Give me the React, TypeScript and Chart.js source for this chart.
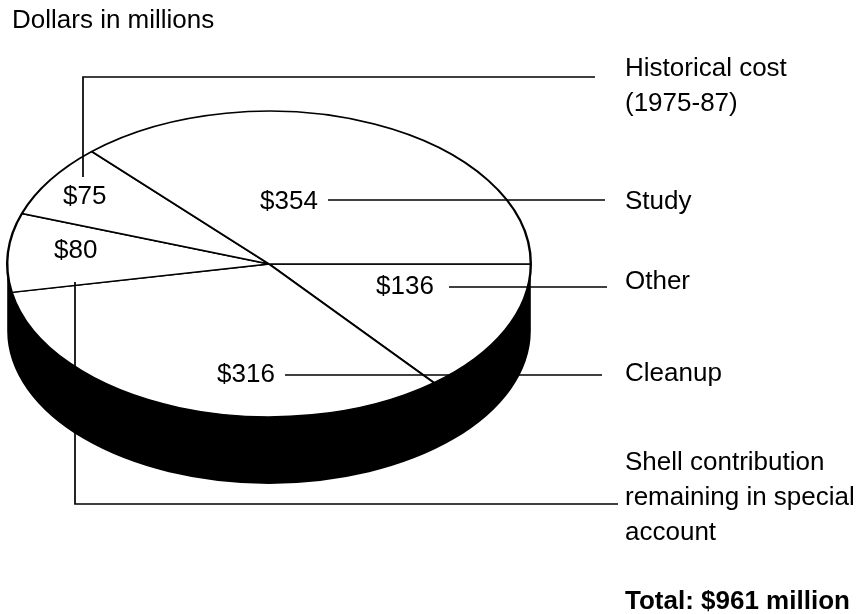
import React, { useEffect, useRef } from "react";
import { Chart, registerables } from "chart.js";

Chart.register(...registerables);

const categories = ["Other", "Cleanup", "Shell contribution remaining in special account", "Historical cost (1975-87)", "Study"];
const values = [136, 316, 80, 75, 354];
const unitNote = "Dollars in millions";
const totalNote = "Total: $961 million";
const categoryLines = [["Other"], ["Cleanup"], ["Shell contribution", "remaining in special", "account"], ["Historical cost", "(1975-87)"], ["Study"]];

const W = 868;
const H = 614;
const FONT = "26px 'Liberation Sans', Arial, sans-serif";
const BOLD = "bold 26px 'Liberation Sans', Arial, sans-serif";
const SQUASH = 153 / 262;
const DEPTH = 67;

// layout of annotations, in the same order as the categories
const valueLabelAt = [[376, 294], [217, 382], [54, 258], [63, 204], [260, 209]];
const nameAt = [[625, 289], [625, 381], [625, 470], [625, 76], [625, 209]];
const leaders = [
  [[449, 287], [607, 287]],
  [[285, 375], [602, 375]],
  [[75, 282], [75, 504], [618, 504]],
  [[83, 177], [83, 77], [595, 77]],
  [[328, 200], [605, 200]],
];

const squashPlugin = {
  id: "squash",
  beforeDatasetsDraw(chart: any) {
    const { ctx } = chart;
    const arc = chart.getDatasetMeta(0).data[0];
    const { x, y, outerRadius: r } = arc;
    ctx.save();
    // black side wall of the disc
    ctx.fillStyle = "#000";
    ctx.beginPath();
    ctx.ellipse(x, y + DEPTH, r, r * SQUASH, 0, 0, Math.PI);
    ctx.lineTo(x - r, y);
    ctx.lineTo(x + r, y);
    ctx.closePath();
    ctx.fill();
    ctx.restore();
    ctx.save();
    ctx.translate(0, y);
    ctx.scale(1, SQUASH);
    ctx.translate(0, -y);
  },
  afterDatasetsDraw(chart: any) {
    const { ctx } = chart;
    ctx.restore();
    ctx.save();
    ctx.strokeStyle = "#000";
    ctx.lineWidth = 1.7;
    ctx.lineCap = "butt";
    ctx.lineJoin = "miter";
    leaders.forEach((pts) => {
      ctx.beginPath();
      pts.forEach(([px, py], i) => (i ? ctx.lineTo(px, py) : ctx.moveTo(px, py)));
      ctx.stroke();
    });
    ctx.fillStyle = "#000";
    ctx.textAlign = "left";
    ctx.textBaseline = "alphabetic";
    ctx.font = FONT;
    ctx.fillText(unitNote, 12, 28);
    values.forEach((v, i) => ctx.fillText(`$${v}`, valueLabelAt[i][0], valueLabelAt[i][1]));
    categoryLines.forEach((lines, i) =>
      lines.forEach((t, j) => ctx.fillText(t, nameAt[i][0], nameAt[i][1] + j * 35))
    );
    ctx.font = BOLD;
    ctx.fillText(totalNote, 625, 609);
    ctx.restore();
  },
};

export default function App() {
  const ref = useRef<HTMLCanvasElement>(null);
  useEffect(() => {
    const chart = new Chart(ref.current as HTMLCanvasElement, {
      type: "pie",
      data: {
        labels: categories,
        datasets: [{ data: values, backgroundColor: "#fff", borderColor: "#000", borderWidth: 2.4, borderAlign: "center" }],
      },
      options: {
        responsive: false,
        animation: false,
        rotation: 90,
        layout: { padding: { left: 6, right: 336, top: 1, bottom: 87 } },
        plugins: { legend: { display: false }, tooltip: { enabled: false }, title: { display: false } },
      },
      plugins: [squashPlugin],
    } as any);
    return () => chart.destroy();
  }, []);
  return (
    <div style={{ position: "absolute", left: 0, top: 0, width: W, height: H, background: "#fff" }}>
      <canvas ref={ref} width={W} height={H} style={{ display: "block" }} />
    </div>
  );
}
